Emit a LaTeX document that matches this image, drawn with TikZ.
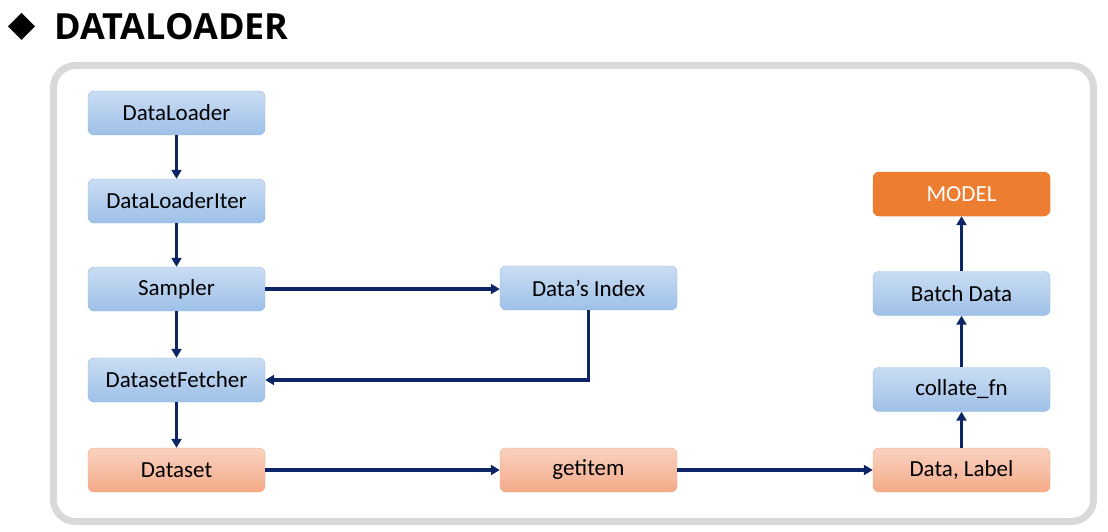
\documentclass[tikz,border=0pt]{standalone}
\usepackage{fontspec}
\setmainfont{Carlito}
\newfontfamily\titlefont{Open Sans}
\usetikzlibrary{arrows.meta,positioning}
\definecolor{framegray}{HTML}{D9D9D9}
\definecolor{navyline}{HTML}{0D2466}
\definecolor{bluetop}{HTML}{CADDF3}
\definecolor{bluebot}{HTML}{9EC0E8}
\definecolor{blueedge}{HTML}{95B8E3}
\definecolor{orgtop}{HTML}{F9D2C0}
\definecolor{orgbot}{HTML}{F4AA88}
\definecolor{orgedge}{HTML}{F2A47E}
\definecolor{modelfill}{HTML}{ED7D31}

\begin{document}
\begin{tikzpicture}[x=1pt,y=-1pt]

    \tikzset{
      bluebox/.style={
        draw=blueedge,
        top color=bluetop,
        bottom color=bluebot,
        rounded corners=6pt,
        minimum width=177pt,
        minimum height=44pt,
        inner sep=0pt,
        font=\fontsize{23}{27}\selectfont,
      },
      orangebox/.style={
        bluebox,
        draw=orgedge,
        top color=orgtop,
        bottom color=orgbot,
      },
      modelbox/.style={
        bluebox,
        draw=modelfill,
        fill=modelfill,
        top color=modelfill,
        bottom color=modelfill,
        text=white,
      },
      flow/.style={
        draw=navyline,
        line width=3.2pt,
        -{Triangle[length=9pt,width=10pt]},
      },
    }
    \useasboundingbox (0,0) rectangle (1108,532);
    % title
    \fill[color={black}] (21.5,13) -- (35,26.5) -- (21.5,40) -- (8,26.5) -- cycle;
    \node[anchor=west,inner sep=0pt,font=\titlefont\bfseries\fontsize{36}{40}\selectfont] (title) at (54,27) {DATALOADER};
    % frame
    \draw[color={framegray},line width=7pt,rounded corners=22pt] (53.5,65.5) rectangle (1093.5,521.5);

    % left column
    \node[bluebox] (loader) at (176.5,113) {DataLoader};
    \node[bluebox] (loaderiter) at (176.5,201) {DataLoaderIter};
    \node[bluebox] (sampler) at (176.5,289) {Sampler};
    \node[bluebox] (fetcher) at (176.5,380) {DatasetFetcher};
    \node[orangebox] (dataset) at (176.5,470) {Dataset};
    % middle column
    \node[bluebox] (index) at (588.5,288) {Data’s Index};
    \node[orangebox] (getitem) at (588.5,470) {getitem};
    % right column
    \node[orangebox] (datalabel) at (961.5,470) {Data, Label};
    \node[bluebox] (collate) at (961.5,389.5) {collate\_fn};
    \node[bluebox] (batch) at (961.5,293.5) {Batch Data};
    \node[modelbox] (model) at (961.5,194) {MODEL};

    % connectors
    \draw[flow] (loader) -- (loaderiter);
    \draw[flow] (loaderiter) -- (sampler);
    \draw[flow] (sampler) -- (fetcher);
    \draw[flow] (fetcher) -- (dataset);
    \draw[flow] (sampler.east) -- (sampler.east -| index.west);
    \draw[flow] (index.south) |- (fetcher.east);
    \draw[flow] (dataset.east) -- (getitem.west);
    \draw[flow] (getitem.east) -- (datalabel.west);
    \draw[flow] (datalabel) -- (collate);
    \draw[flow] (collate) -- (batch);
    \draw[flow] (batch) -- (model);

\end{tikzpicture}
\end{document}
